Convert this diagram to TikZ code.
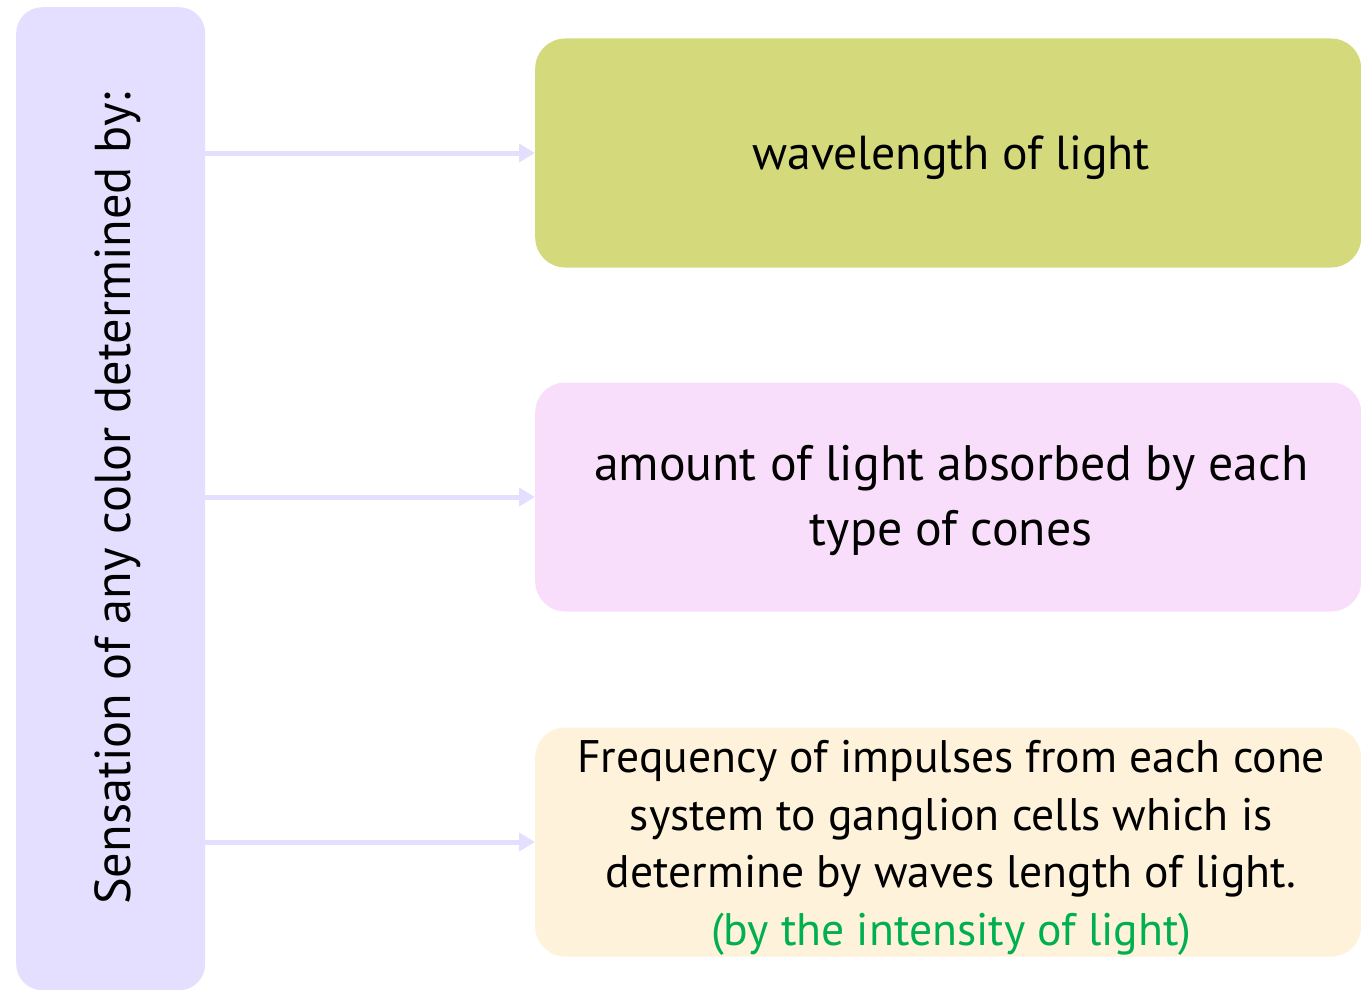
\documentclass[tikz,border=0pt]{standalone}
\usepackage{fontspec}
\setmainfont{PT Sans}
\usetikzlibrary{arrows.meta}
\definecolor{sidefill}{HTML}{E5DFFF}
\definecolor{olivefill}{HTML}{D4DA7C}
\definecolor{pinkfill}{HTML}{F9DEFB}
\definecolor{creamfill}{HTML}{FEF3DA}
\definecolor{notegreen}{HTML}{00B050}
\tikzset{
  x=1pt, y=-1pt,
  sidebox/.style={fill=sidefill, draw=none, rounded corners=26pt},
  itembox/.style={draw=none, rounded corners=30pt, minimum width=826pt, minimum height=229pt, anchor=west, inner sep=0pt},
  itemtext/.style={align=center, inner sep=0pt},
  link/.style={draw=sidefill, line width=5pt, -{Triangle[length=16pt,width=18pt]}},
}
\begin{document}
\begin{tikzpicture}
\useasboundingbox (0,0) rectangle (1361,990);
% left column
\node[sidebox, minimum width=189pt, minimum height=983pt, anchor=north west, inner sep=0pt] (side) at (16,7) {};
\node[rotate=90, anchor=base west, inner sep=0pt, font=\fontsize{50.4}{58}\selectfont] (sidetext) at (130,905) {Sensation of any color determined by:};
% item boxes
\node[itembox, fill=olivefill] (b1) at (535,153) {};
\node[itemtext, font=\fontsize{47.7}{56}\selectfont] (t1) at ([xshift=3pt,yshift=-5pt]b1.center) {wavelength of light};
\node[itembox, fill=pinkfill] (b2) at (535,497) {};
\node[itemtext, font=\fontsize{49.8}{65}\selectfont] (t2) at ([xshift=3pt,yshift=-3pt]b2.center) {amount of light absorbed by each\\type of cones};
\node[itembox, fill=creamfill] (b3) at (535,842) {};
\node[itemtext, font=\fontsize{45.6}{57.5}\selectfont] (t3) at ([xshift=3pt,yshift=-6pt]b3.center) {Frequency of impulses from each cone\\system to ganglion cells which is\\determine by waves length of light.\\\textcolor{notegreen}{(by the intensity of light)}};
% connectors
\coordinate (s1) at (205,153);
\coordinate (s2) at (205,497);
\coordinate (s3) at (205,842);
\draw[link] (s1) -- (b1.west);
\draw[link] (s2) -- (b2.west);
\draw[link] (s3) -- (b3.west);
\end{tikzpicture}
\end{document}
